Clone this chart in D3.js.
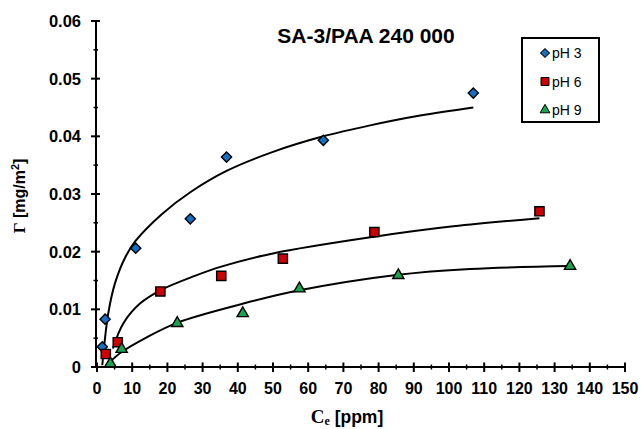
<!DOCTYPE html>
<html lang="en">
<head>
<meta charset="UTF-8">
<title>SA-3/PAA 240 000</title>
<script src="https://cdn.jsdelivr.net/npm/d3@7"></script>
<style>
  body { margin: 0; background: #fff; }
  text { font-family: "Liberation Sans", Arial, sans-serif; }
</style>
</head>
<body>
<svg width="644" height="429"></svg>
<script>
// measured points (Ce in ppm, Gamma in mg/m2)
var ph3_x = [1.5, 2.3, 11.0, 26.5, 36.8, 64.3, 106.9];
var ph3_y = [0.0035, 0.0083, 0.0206, 0.0257, 0.0364, 0.0393, 0.0475];
var ph6_x = [2.5, 5.9, 18.0, 35.3, 52.8, 78.8, 125.7];
var ph6_y = [0.00225, 0.0043, 0.0131, 0.0158, 0.0188, 0.0234, 0.0270];
var ph9_x = [3.8, 7.0, 22.8, 41.4, 57.5, 85.6, 134.4];
var ph9_y = [0.0006, 0.0031, 0.0076, 0.0093, 0.0136, 0.0159, 0.0175];

// fitted curves
var fit3_x = [1.5, 3.2, 5.1, 8.0, 11.0, 18.4, 26.5, 36.8, 50.0, 64.3, 77.6, 91.8, 106.9];
var fit3_y = [0.0003, 0.0093, 0.0145, 0.0190, 0.0219, 0.0265, 0.0303, 0.0340, 0.0373, 0.0400, 0.0419, 0.0436, 0.0450];
var fit6_x = [4.5, 7.5, 12.2, 18.0, 27.8, 35.3, 50.0, 78.8, 101.2, 125.7];
var fit6_y = [0.0032, 0.0076, 0.0110, 0.0133, 0.0158, 0.0174, 0.0197, 0.0226, 0.0244, 0.0258];
var fit9_x = [3.7, 7.0, 14.0, 22.9, 41.6, 57.5, 85.6, 106.0, 134.4];
var fit9_y = [0.0009, 0.0026, 0.0051, 0.0077, 0.0110, 0.0133, 0.0160, 0.0170, 0.0175];

var xTicks = d3.range(0, 151, 10);
var yTicks = [0, 0.01, 0.02, 0.03, 0.04, 0.05, 0.06];
var seriesNames = ["pH 3", "pH 6", "pH 9"];
var colors = ["#1470c4", "#cc0000", "#18a44e"];

var svg = d3.select("svg");
var x = d3.scaleLinear().domain([0, 150]).range([97, 625]);
var y = d3.scaleLinear().domain([0, 0.06]).range([367, 21]);

function zip(a, b) { return a.map(function(v, i) { return [v, b[i]]; }); }

var series = [
  { name: seriesNames[0], pts: zip(ph3_x, ph3_y), fit: zip(fit3_x, fit3_y), sym: "diamond" },
  { name: seriesNames[1], pts: zip(ph6_x, ph6_y), fit: zip(fit6_x, fit6_y), sym: "square" },
  { name: seriesNames[2], pts: zip(ph9_x, ph9_y), fit: zip(fit9_x, fit9_y), sym: "triangle" }
];

// axes
var xAxis = svg.append("g").attr("transform", "translate(0,367)");
xAxis.append("line").attr("x1", 96).attr("x2", 626).attr("stroke", "#000").attr("stroke-width", 2);
xAxis.selectAll(".minor").data(d3.range(5, 150, 10)).enter().append("line")
  .attr("x1", x).attr("x2", x).attr("y1", -2.5).attr("y2", 2.5)
  .attr("stroke", "#000").attr("stroke-width", 1.5);
xAxis.selectAll(".major").data(xTicks).enter().append("line")
  .attr("x1", x).attr("x2", x).attr("y1", -4.5).attr("y2", 5)
  .attr("stroke", "#000").attr("stroke-width", 2);
xAxis.selectAll("text").data(xTicks).enter().append("text")
  .attr("x", x).attr("y", 27)
  .attr("text-anchor", "middle")
  .attr("font-size", 16).attr("font-weight", "bold")
  .text(function(d) { return d; });

var yAxis = svg.append("g").attr("transform", "translate(96,0)");
yAxis.append("line").attr("y1", 20).attr("y2", 368).attr("stroke", "#000").attr("stroke-width", 2);
yAxis.selectAll(".minor").data(d3.range(0.005, 0.06, 0.01)).enter().append("line")
  .attr("y1", y).attr("y2", y).attr("x1", -2.5).attr("x2", 2)
  .attr("stroke", "#000").attr("stroke-width", 1.5);
yAxis.selectAll(".major").data(yTicks).enter().append("line")
  .attr("y1", y).attr("y2", y).attr("x1", -5).attr("x2", 4)
  .attr("stroke", "#000").attr("stroke-width", 2);
yAxis.selectAll("text").data(yTicks).enter().append("text")
  .attr("x", -15).attr("y", function(d) { return y(d) + 6; })
  .attr("text-anchor", "end")
  .attr("font-size", 16.5).attr("font-weight", "bold")
  .text(function(d) { return d === 0 ? "0" : d.toFixed(2); });

// axis titles
var xt = svg.append("text").attr("x", 347).attr("y", 423).attr("text-anchor", "middle")
  .attr("font-size", 17.5).attr("font-weight", "bold");
xt.append("tspan").attr("font-family", "Liberation Serif, Times New Roman, serif")
  .attr("font-size", 19).text("C");
xt.append("tspan").attr("font-family", "Liberation Serif, Times New Roman, serif")
  .attr("font-size", 12).attr("dy", 2).text("e");
xt.append("tspan").attr("dy", -2).text(" [ppm]");

var yt = svg.append("text").attr("transform", "translate(25,196) rotate(-90)")
  .attr("text-anchor", "middle").attr("font-size", 16).attr("font-weight", "bold");
yt.append("tspan").attr("font-family", "Liberation Serif, Times New Roman, serif")
  .attr("font-size", 17).text("Γ");
yt.append("tspan").text(" [mg/m");
yt.append("tspan").attr("font-size", 11).attr("dy", -6).text("2");
yt.append("tspan").attr("dy", 6).text("]");

// title
svg.append("text").attr("x", 366).attr("y", 43).attr("text-anchor", "middle")
  .attr("font-size", 21).attr("font-weight", "bold").text("SA-3/PAA 240 000");

// fitted lines
var line = d3.line()
  .x(function(d) { return x(d[0]); })
  .y(function(d) { return y(d[1]); })
  .curve(d3.curveCatmullRom.alpha(0.5));
svg.append("g").selectAll("path").data(series).enter().append("path")
  .attr("d", function(d) { return line(d.fit); })
  .attr("fill", "none").attr("stroke", "#000").attr("stroke-width", 2);

function symbolPath(kind, scale) {
  if (kind === "diamond") return d3.symbol(d3.symbolSquare, 52 * scale)();
  if (kind === "square") return d3.symbol(d3.symbolSquare, 85 * scale)();
  return d3.symbol(d3.symbolTriangle, 55 * scale)();
}

// markers
series.forEach(function(s, i) {
  svg.append("g").selectAll("path").data(s.pts).enter().append("path")
    .attr("d", symbolPath(s.sym, 1))
    .attr("transform", function(d) {
      return "translate(" + x(d[0]) + "," + y(d[1]) + ")" + (s.sym === "diamond" ? " rotate(45)" : "");
    })
    .attr("fill", colors[i]).attr("stroke", "#000").attr("stroke-width", 1.4);
});

// legend
var legend = svg.append("g");
legend.append("rect").attr("x", 522).attr("y", 38).attr("width", 77).attr("height", 84)
  .attr("fill", "#fff").attr("stroke", "#000").attr("stroke-width", 2);
var rows = [53, 81.5, 110];
series.forEach(function(s, i) {
  legend.append("path")
    .attr("d", symbolPath(s.sym, 0.75))
    .attr("transform", "translate(545," + rows[i] + ")" + (s.sym === "diamond" ? " rotate(45)" : ""))
    .attr("fill", colors[i]).attr("stroke", "#000").attr("stroke-width", 1);
  legend.append("text").attr("x", 552).attr("y", rows[i] + 5)
    .attr("font-size", 14).text(s.name);
});
</script>
</body>
</html>
